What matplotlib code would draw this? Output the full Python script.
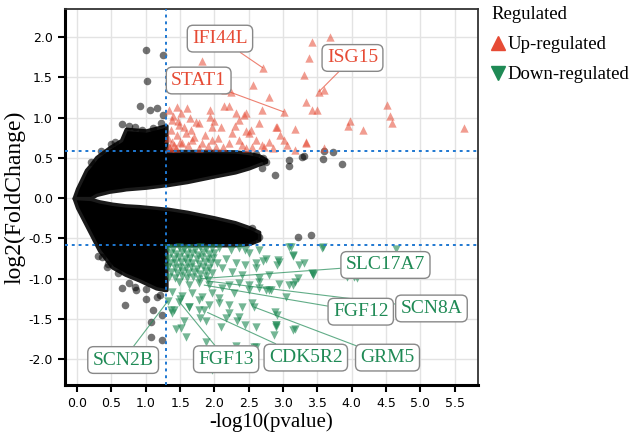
import matplotlib
matplotlib.use("Agg")
import matplotlib.pyplot as plt
from matplotlib.lines import Line2D

# Data
# dense non-significant cloud, upper arm (envelope)
cloud_up_x = [-0.05, 0.0, 0.13, 0.2, 0.28, 0.47, 0.64, 0.71, 1.0, 1.19, 1.28, 1.30, 1.30, 1.6, 2.0, 2.3, 2.5, 2.65, 2.75]
cloud_up_top = [0.0, 0.12, 0.35, 0.42, 0.51, 0.63, 0.72, 0.86, 0.84, 0.88, 0.90, 0.90, 0.585, 0.585, 0.585, 0.58, 0.56, 0.53, 0.48]
cloud_up_bot = [0.0, 0.0, 0.0, 0.0, 0.04, 0.08, 0.10, 0.11, 0.13, 0.15, 0.16, 0.16, 0.16, 0.20, 0.27, 0.32, 0.37, 0.42, 0.45]
# lower arm (envelope)
cloud_dn_x = [-0.05, 0.0, 0.2, 0.32, 0.51, 0.7, 0.9, 1.15, 1.27, 1.30, 1.30, 1.6, 2.0, 2.3, 2.5, 2.65]
cloud_dn_top = [0.0, 0.0, -0.01, -0.04, -0.07, -0.09, -0.10, -0.12, -0.13, -0.13, -0.13, -0.17, -0.24, -0.30, -0.36, -0.42]
cloud_dn_bot = [0.0, -0.12, -0.45, -0.65, -0.86, -0.95, -1.02, -1.12, -1.14, -1.14, -0.585, -0.585, -0.585, -0.585, -0.57, -0.52]

# scattered non-significant genes
ns_x = [1.00, 1.25, 1.02, 0.92, 1.06, 1.16, 1.25, 0.65, 0.49, 2.88, 3.08, 3.08, 2.69, 3.28,
        3.30, 3.59, 3.72, 3.58, 3.85, 0.70, 1.10, 1.08, 1.08, 1.24, 1.24, 1.16, 1.00, 0.86, 0.65,
        0.36, 0.44, 1.99, 2.25, 2.54, 3.21, 3.40, 0.20, 0.35, 0.55, 0.75, 0.85, 0.95, 1.10, 1.22,
        0.30, 0.45, 0.60, 0.75, 0.85, 1.00, 1.20, 2.60, 2.70, 2.75, 2.45, 2.55, 2.65]
ns_y = [1.84, 1.78, 1.45, 1.14, 1.09, 1.12, 1.03, 0.92, 0.67, 0.29, 0.47, 0.40, 0.37, 0.51,
        0.52, 0.58, 0.57, 0.48, 0.42, -1.33, -1.39, -1.54, -1.73, -1.45, -1.76, -1.23, -1.25, -1.14, -1.11,
        -0.73, -0.86, -0.34, -0.36, -0.37, -0.48, -0.46, 0.45, 0.58, 0.70, 0.90, 0.88, 0.85, 0.87, 0.93,
        -0.72, -0.82, -0.93, -1.05, -1.10, -1.13, -1.20, 0.55, 0.50, 0.45, -0.55, -0.52, -0.48]

# up-regulated genes
up_x = [3.42, 3.68, 3.38, 3.30, 2.70, 1.82, 2.56, 2.16, 2.24, 3.01, 2.79, 3.33, 3.42, 3.50, 3.60, 3.52,
        4.51, 4.55, 4.59, 3.97, 3.94, 4.17, 5.64, 3.33, 3.60,
        1.60, 1.45, 1.34, 1.93, 2.14, 2.21, 1.93, 2.43, 2.69, 2.65, 2.35, 2.53, 2.50, 2.46, 2.89, 3.18,
        2.79, 3.01, 3.05, 3.18, 1.77, 1.96, 2.09, 1.66, 1.58, 1.48, 1.38, 1.51, 1.73,
        2.25, 2.35, 2.21, 1.96, 1.82, 1.67, 1.53, 1.38, 1.34, 1.44, 1.77, 2.02, 2.60, 2.54, 2.46, 2.69,
        1.33, 1.36, 1.41, 1.45, 1.50, 1.55, 1.40, 1.62, 1.70, 1.35, 1.47, 1.86, 1.90, 2.05, 2.12, 2.30,
        2.40, 1.65, 2.00, 2.72, 2.85, 2.95, 2.91, 3.33, 2.31, 2.46]
up_y = [1.94, 2.00, 1.74, 1.53, 1.62, 1.70, 1.40, 1.34, 1.32, 1.07, 1.25, 1.19, 1.09, 1.10, 1.34, 1.32,
        1.16, 1.02, 0.93, 0.96, 0.89, 0.84, 0.87, 0.68, 0.62,
        1.12, 1.13, 1.09, 1.09, 1.14, 1.14, 1.01, 1.03, 1.09, 0.93, 0.97, 0.85, 0.81, 0.83, 0.88, 0.86,
        0.70, 0.72, 0.66, 0.60, 0.93, 0.88, 0.88, 0.84, 0.81, 0.91, 0.97, 1.06, 0.94,
        0.81, 0.72, 0.68, 0.72, 0.68, 0.72, 0.68, 0.70, 0.63, 0.62, 0.62, 0.63, 0.72, 0.63, 0.62, 0.66,
        0.75, 0.85, 0.66, 0.78, 0.70, 0.88, 1.02, 0.66, 0.76, 0.62, 0.96, 0.78, 0.65, 0.75, 0.64, 0.90,
        0.66, 1.00, 0.96, 0.64, 0.62, 0.78, 0.88, 0.70, 1.06, 1.06]

# down-regulated genes
down_x = [3.15, 2.70, 3.42, 3.58, 2.91, 2.45, 2.60, 2.82, 3.04, 2.57, 2.35, 2.09, 2.89, 3.15, 2.88,
          2.60, 1.87, 1.63, 1.38, 1.51, 2.21, 2.28, 2.06, 1.85, 1.77, 2.50, 2.65, 1.87, 2.31, 2.57,
          1.96, 1.99, 2.89, 2.86, 2.45, 2.33, 2.17, 1.79, 1.56, 1.44, 1.58, 1.41, 2.60,
          3.08, 3.56, 4.64, 3.14, 3.23, 2.92, 3.43, 3.21, 3.18, 3.08, 3.15, 2.94, 2.80, 4.03, 3.93,
          4.22, 4.07, 3.30, 3.11, 3.17, 2.94, 2.91, 2.89, 3.44,
          1.48, 1.63, 1.77, 1.92, 1.38, 1.53, 1.67, 1.82, 1.96, 2.11, 2.21, 2.35, 2.50, 2.65, 2.75,
          1.48, 1.63, 1.77, 1.92, 2.06, 2.21, 2.40, 2.54, 1.37,
          2.06, 2.24, 2.35, 2.50, 2.65, 2.75, 2.17, 2.31, 2.45, 2.60, 2.11, 2.25, 2.40, 2.65, 2.79,
          1.33, 1.40, 1.48, 1.55, 1.63, 1.71, 1.79, 1.88, 1.96,
          1.36, 1.44, 1.52, 1.60, 1.68, 1.76, 1.84, 1.92, 2.00,
          1.32, 1.41, 1.49, 1.57, 1.65, 1.74, 1.82, 1.90, 1.98,
          1.35, 1.43, 1.51, 1.60, 1.68, 1.77, 1.86, 1.95, 2.03,
          1.33, 1.42, 1.50, 1.58, 1.66, 1.75, 1.83, 1.92,
          1.36, 1.45, 1.53, 1.62, 1.70, 1.79, 1.88, 1.97,
          1.34, 1.43, 1.52, 1.60, 1.69, 1.78, 1.87, 1.32, 1.50, 1.90]
down_y = [-0.71, -0.78, -0.93, -0.61, -0.83, -0.65, -0.81, -1.14, -1.23, -1.35, -1.48, -1.60, -1.58, -1.64, -1.42,
          -1.60, -1.52, -1.35, -1.43, -1.61, -1.43, -1.18, -1.24, -1.39, -1.27, -1.14, -1.11, -1.79, -1.83, -1.85,
          -2.14, -2.11, -1.60, -1.70, -1.58, -1.52, -1.49, -1.49, -1.52, -1.62, -1.73, -1.39, -1.85,
          -0.61, -0.62, -0.63, -0.72, -0.83, -0.77, -0.94, -0.99, -1.04, -1.08, -1.08, -1.07, -1.14, -0.98, -0.98,
          -0.79, -0.99, -0.81, -0.61, -1.62, -0.79, -1.45, -1.58, -0.96,
          -1.04, -1.08, -1.06, -1.08, -1.17, -1.21, -1.18, -1.23, -1.18, -1.12, -1.08, -1.06, -1.08, -1.04, -1.14,
          -1.29, -1.35, -1.39, -1.33, -1.30, -1.33, -1.35, -1.30, -1.39,
          -0.62, -0.65, -0.62, -0.68, -0.65, -0.75, -0.75, -0.80, -0.83, -0.87, -0.87, -0.92, -0.96, -0.99, -0.96,
          -0.62, -0.63, -0.61, -0.63, -0.62, -0.64, -0.61, -0.63, -0.62,
          -0.68, -0.69, -0.67, -0.69, -0.68, -0.70, -0.67, -0.69, -0.68,
          -0.74, -0.75, -0.73, -0.75, -0.74, -0.76, -0.73, -0.75, -0.74,
          -0.80, -0.81, -0.79, -0.81, -0.80, -0.82, -0.79, -0.81, -0.80,
          -0.86, -0.87, -0.85, -0.87, -0.86, -0.88, -0.85, -0.87,
          -0.92, -0.93, -0.91, -0.93, -0.92, -0.94, -0.91, -0.93,
          -0.98, -0.99, -0.97, -0.99, -0.98, -1.00, -0.97, -1.28, -1.25, -1.02]

# labelled genes: name, point, label position
up_labels = ["IFI44L", "STAT1", "ISG15"]
up_label_pts = [(2.70, 1.62), (3.01, 1.07), (3.52, 1.32)]
up_label_pos = [(2.08, 1.98), (1.77, 1.46), (4.01, 1.74)]
down_labels = ["SLC17A7", "SCN8A", "FGF12", "GRM5", "CDK5R2", "FGF13", "SCN2B"]
down_label_pts = [(1.80, -1.00), (1.90, -1.03), (1.85, -1.08), (2.57, -1.35), (1.90, -1.42), (1.50, -1.30), (1.32, -1.28)]
down_label_pos = [(4.49, -0.83), (5.16, -1.37), (4.13, -1.41), (4.52, -1.98), (3.33, -1.98), (2.17, -2.00), (0.67, -2.01)]

up_color = "#E64B35"
down_color = "#1F8A55"
serif = "Liberation Serif"

fig = plt.figure(figsize=(6.35, 4.41), dpi=100)
ax = fig.add_axes([0.102, 0.127, 0.651, 0.853])

ax.set_axisbelow(True)
ax.grid(True, color="#e3e3e3", linewidth=1.0)

# non-significant cloud
ax.fill_between(cloud_up_x, cloud_up_bot, cloud_up_top, facecolor="black",
                edgecolor="#1a1a1a", linewidth=2.5, zorder=2)
ax.fill_between(cloud_dn_x, cloud_dn_bot, cloud_dn_top, facecolor="black",
                edgecolor="#1a1a1a", linewidth=2.5, zorder=2)
ax.scatter(ns_x, ns_y, s=30, color="black", alpha=0.55, linewidths=0, zorder=2)

# significant genes
ax.scatter(up_x, up_y, s=36, marker="^", color=up_color, alpha=0.55, linewidths=0, zorder=3)
ax.scatter(down_x, down_y, s=36, marker="v", color=down_color, alpha=0.62, linewidths=0, zorder=3)

# thresholds
ax.axhline(0.585, color="#1f78d1", linestyle=(0, (1.5, 2)), linewidth=1.4, zorder=4)
ax.axhline(-0.585, color="#1f78d1", linestyle=(0, (1.5, 2)), linewidth=1.4, zorder=4)
ax.axvline(1.301, color="#1f78d1", linestyle=(0, (1.5, 2)), linewidth=1.4, zorder=4)

# gene labels
box = dict(boxstyle="round,pad=0.25,rounding_size=0.3", facecolor="white", edgecolor="#888888", linewidth=1)
for name, pt, pos in zip(up_labels, up_label_pts, up_label_pos):
    ax.annotate(name, xy=pt, xytext=pos, ha="center", va="center", color=up_color,
                fontsize=14, family=serif, bbox=box, zorder=5,
                arrowprops=dict(arrowstyle="-", color=up_color, alpha=0.7, lw=0.8, shrinkA=0, shrinkB=0))
for name, pt, pos in zip(down_labels, down_label_pts, down_label_pos):
    ax.annotate(name, xy=pt, xytext=pos, ha="center", va="center", color=down_color,
                fontsize=14, family=serif, bbox=box, zorder=5,
                arrowprops=dict(arrowstyle="-", color=down_color, alpha=0.7, lw=0.8, shrinkA=0, shrinkB=0))

ax.set_xlim(-0.18, 5.84)
ax.set_ylim(-2.32, 2.35)
ax.set_xticks([i * 0.5 for i in range(12)])
ax.set_yticks([-2.0, -1.5, -1.0, -0.5, 0.0, 0.5, 1.0, 1.5, 2.0])
ax.tick_params(labelsize=9, direction="out", length=5, width=1.5, colors="black")
ax.set_xticklabels(["%.1f" % t for t in ax.get_xticks()])
ax.set_yticklabels(["%.1f" % t for t in ax.get_yticks()])

for side in ["left", "bottom"]:
    ax.spines[side].set_linewidth(2.2)
for side in ["top", "right"]:
    ax.spines[side].set_linewidth(1.3)
    ax.spines[side].set_color("#333333")

ax.set_xlabel("-log10(pvalue)", family=serif, fontsize=15, labelpad=2)
ax.set_ylabel("log2(FoldChange)", family=serif, fontsize=17, labelpad=2)

handles = [Line2D([], [], marker="^", color=up_color, linestyle="none", markersize=10),
           Line2D([], [], marker="v", color=down_color, linestyle="none", markersize=10)]
leg = fig.legend(handles, ["Up-regulated", "Down-regulated"], title="Regulated",
                 loc="upper left", bbox_to_anchor=(0.768, 0.995), frameon=False,
                 prop={"family": serif, "size": 13.5}, handlelength=0.7, handletextpad=0.15,
                 labelspacing=0.7, borderaxespad=0, borderpad=0.2, alignment="left")
leg.get_title().set_fontfamily(serif)
leg.get_title().set_fontsize(13.5)

plt.savefig("out.png", dpi=100)
